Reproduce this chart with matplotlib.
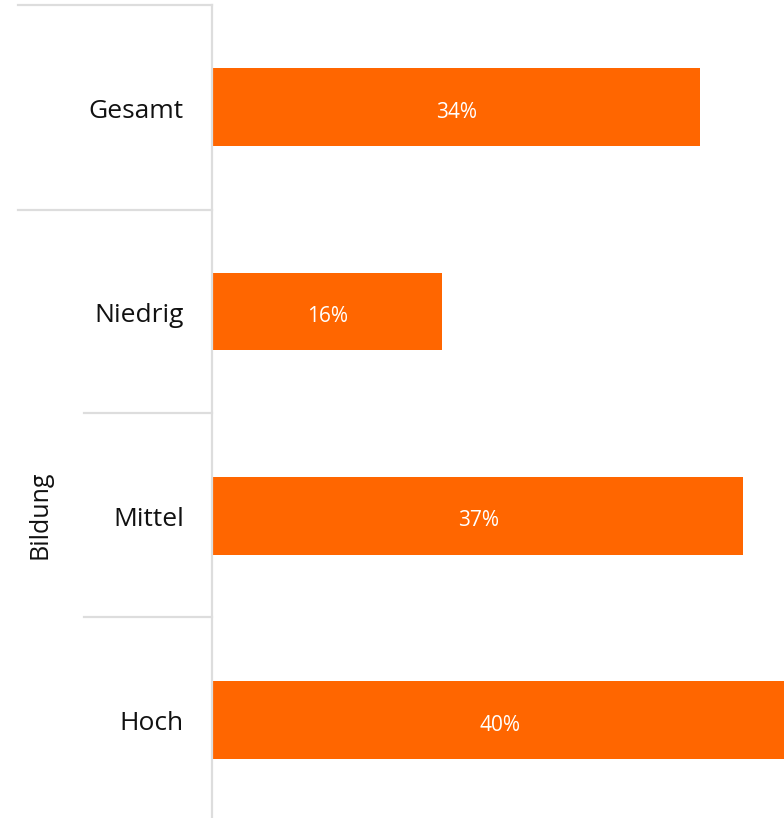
import matplotlib
matplotlib.use("Agg")
import matplotlib.pyplot as plt
from matplotlib.lines import Line2D

categories = ["Gesamt", "Niedrig", "Mittel", "Hoch"]
values = [34, 16, 37, 40]
labels = ["34%", "16%", "37%", "40%"]
group_label = "Bildung"

W, H = 784, 818
fig = plt.figure(figsize=(W / 100, H / 100), dpi=100)
plt.rcParams['font.family'] = ['Open Sans', 'DejaVu Sans']

band = 204.3
top_px = 5
ax_left = 213 / W
ax_bottom = 0.0
ax_top = 1 - top_px / H
ax = fig.add_axes([ax_left, ax_bottom, 1 - ax_left, ax_top - ax_bottom])
n_bands = (H - top_px) / band
ax.set_ylim(-0.5 + n_bands, -0.5)
ax.set_xlim(0, 39.85)
ax.barh(range(len(categories)), values, height=0.38, color="#FF6600")
for i, (v, lab) in enumerate(zip(values, labels)):
    ax.text(v / 2, i + 0.012, lab, ha="center", va="center_baseline", color="white", fontsize=15)
ax.axis("off")

lc = "#dddddd"

# vertical axis line
fig.add_artist(Line2D([212 / W, 212 / W], [1 - 5 / H, 0], color=lc, lw=1.6))
# horizontal separators
for (x0, y) in [(18, 5), (18, 210), (84, 413), (84, 617)]:
    fig.add_artist(Line2D([x0 / W, 212 / W], [1 - y / H, 1 - y / H], color=lc, lw=1.6))

# category labels
centers = [109, 313, 517, 721]
for c, y in zip(categories, centers):
    fig.text(184 / W, 1 - y / H, c, ha="right", va="center_baseline", fontsize=19, color="#111111")

fig.text(40 / W, 1 - 515 / H, group_label, rotation=90, ha="center", va="center", fontsize=18, color="#111111")

fig.savefig("out.png", dpi=100)
